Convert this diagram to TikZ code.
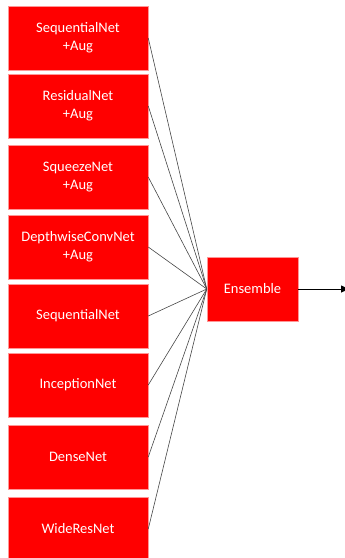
\documentclass[tikz,border=0pt]{standalone}
\usepackage{fontspec}
\setmainfont{Carlito}
\usetikzlibrary{arrows.meta}
\definecolor{boxred}{RGB}{255,0,0}
\definecolor{boxedge}{RGB}{255,150,150}
\definecolor{wire}{RGB}{70,70,70}
\tikzset{
  netbox/.style={rectangle, fill=boxred, draw=boxedge, line width=0.5pt,
    minimum width=140pt, minimum height=64pt, inner sep=0pt,
    text=white, font=\fontsize{14.5pt}{18pt}\selectfont, align=center},
  wirestyle/.style={draw=wire, line width=0.6pt},
}
\begin{document}
\begin{tikzpicture}[x=1pt, y=-1pt]
  \useasboundingbox (0,0) rectangle (345,558);
  \clip (0,0) rectangle (345,558);
  % model boxes (left column)
  \node[netbox] (m1) at (78,38)  {SequentialNet\\+Aug};
  \node[netbox] (m2) at (78,106) {ResidualNet\\+Aug};
  \node[netbox] (m3) at (78,177) {SqueezeNet\\+Aug};
  \node[netbox] (m4) at (78,247) {DepthwiseConvNet\\+Aug};
  \node[netbox] (m5) at (78,316) {SequentialNet};
  \node[netbox] (m6) at (78,385) {InceptionNet};
  \node[netbox] (m7) at (78,457) {DenseNet};
  \node[netbox] (m8) at (78,529) {WideResNet};
  % ensemble box
  \node[netbox, minimum width=91pt] (ens) at (252.5,289) {Ensemble};
  \coordinate (out) at (349,289);
  % connectors
  \foreach \i in {1,...,8} {
    \draw[wirestyle] (m\i.east) -- (ens.west);
  }
  \draw[draw=black, line width=0.8pt, -{Triangle[length=8pt,width=7pt]}] (ens.east) -- (out);
\end{tikzpicture}
\end{document}
